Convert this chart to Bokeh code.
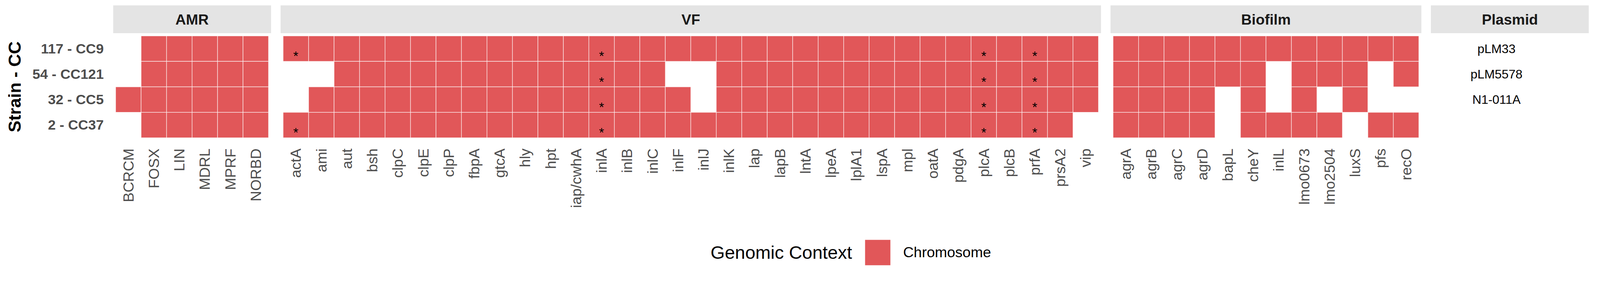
import math
from bokeh.plotting import figure
from bokeh.models import Range1d, FixedTicker, ColumnDataSource, Legend, LegendItem
from bokeh.layouts import column
from bokeh.embed import file_html
from bokeh.resources import INLINE
from bokeh.core.properties import value

# ---------------- data ----------------
strains = ["117 - CC9", "54 - CC121", "32 - CC5", "2 - CC37"]

amr_genes = ["BCRCM", "FOSX", "LIN", "MDRL", "MPRF", "NORBD"]
amr_presence = [
    [0, 1, 1, 1, 1, 1],
    [0, 1, 1, 1, 1, 1],
    [1, 1, 1, 1, 1, 1],
    [0, 1, 1, 1, 1, 1],
]

vf_genes = ["actA", "ami", "aut", "bsh", "clpC", "clpE", "clpP", "fbpA", "gtcA", "hly",
            "hpt", "iap/cwhA", "inlA", "inlB", "inlC", "inlF", "inlJ", "inlK", "lap", "lapB",
            "lntA", "lpeA", "lplA1", "lspA", "mpl", "oatA", "pdgA", "plcA", "plcB", "prfA",
            "prsA2", "vip"]
vf_presence = [
    [1, 1, 1, 1, 1, 1, 1, 1, 1, 1, 1, 1, 1, 1, 1, 1, 1, 1, 1, 1, 1, 1, 1, 1, 1, 1, 1, 1, 1, 1, 1, 1],
    [0, 0, 1, 1, 1, 1, 1, 1, 1, 1, 1, 1, 1, 1, 1, 0, 0, 1, 1, 1, 1, 1, 1, 1, 1, 1, 1, 1, 1, 1, 1, 1],
    [0, 1, 1, 1, 1, 1, 1, 1, 1, 1, 1, 1, 1, 1, 1, 1, 0, 1, 1, 1, 1, 1, 1, 1, 1, 1, 1, 1, 1, 1, 1, 1],
    [1, 1, 1, 1, 1, 1, 1, 1, 1, 1, 1, 1, 1, 1, 1, 1, 1, 1, 1, 1, 1, 1, 1, 1, 1, 1, 1, 1, 1, 1, 1, 0],
]

bio_genes = ["agrA", "agrB", "agrC", "agrD", "bapL", "cheY", "inlL", "lmo0673", "lmo2504",
             "luxS", "pfs", "recO"]
bio_presence = [
    [1, 1, 1, 1, 1, 1, 1, 1, 1, 1, 1, 1],
    [1, 1, 1, 1, 1, 1, 0, 1, 1, 1, 0, 1],
    [1, 1, 1, 1, 0, 1, 0, 1, 0, 1, 0, 0],
    [1, 1, 1, 1, 0, 1, 1, 1, 1, 0, 1, 1],
]

star_genes = ["actA", "actA", "inlA", "inlA", "inlA", "inlA",
              "plcA", "plcA", "plcA", "plcA", "prfA", "prfA", "prfA", "prfA"]
star_strains = ["117 - CC9", "2 - CC37",
                "117 - CC9", "54 - CC121", "32 - CC5", "2 - CC37",
                "117 - CC9", "54 - CC121", "32 - CC5", "2 - CC37",
                "117 - CC9", "54 - CC121", "32 - CC5", "2 - CC37"]

plasmid_labels = ["pLM33", "pLM5578", "N1-011A", ""]

panel_names = ["AMR", "VF", "Biofilm", "Plasmid"]
panel_genes = [amr_genes, vf_genes, bio_genes, None]
panel_presence = [amr_presence, vf_presence, bio_presence, None]
plasmid_units = 6

legend_title = "Genomic Context"
legend_label = "Chromosome"

# ---------------- style ----------------
# sizes are measured on the 4364 px picture and converted to page (CSS) pixels
K = 4364 / 4096
MARGIN = 8


def sz(v):
    return v / K


def fs(v):
    return "%.1fpx" % (v / K)


RED = "#E15759"
STRIP = "#E4E4E4"
FONT = "Liberation Sans"
TILE_PX = 69.5
PAD = 0.1
GAP = 26 / TILE_PX

extents = []
start = 0.0
for name, genes in zip(panel_names, panel_genes):
    n = len(genes) if genes is not None else plasmid_units
    end = start + n + 2 * PAD
    extents.append((start, end))
    start = end + GAP
total = extents[-1][1]
n_rows = len(strains)
row_y = {s: n_rows - i - 0.5 for i, s in enumerate(strains)}

W = int(round(4096 - 2 * MARGIN))
LEFT = int(round(sz(316) - MARGIN))
frame_w = int(round(sz(total * TILE_PX)))
RIGHT = W - LEFT - frame_w

TOP = int(round(sz(22) - MARGIN))
STRIP_H = int(round(sz(77)))
TILE_FH = int(round(sz((n_rows + 2 * PAD) * TILE_PX)))
AXIS_B = int(round(sz(192)))
page_h = int(766 / K) - 2 * MARGIN
LEG_H = page_h - (TOP + STRIP_H) - (TILE_FH + AXIS_B)
leg_top_css = MARGIN + TOP + STRIP_H + TILE_FH + AXIS_B

xr = Range1d(0, total)

# ---------------- strip figure ----------------
ps = figure(width=W, height=TOP + STRIP_H, x_range=xr, y_range=Range1d(0, 1),
            output_backend="svg", toolbar_location=None,
            x_axis_location=None, y_axis_location=None,
            min_border_left=LEFT, min_border_right=RIGHT, min_border_top=TOP, min_border_bottom=0)
ps.outline_line_color = None
ps.grid.visible = False
strip_src = ColumnDataSource(dict(
    x=[(a + b) / 2 for a, b in extents],
    w=[b - a for a, b in extents],
    y=[0.5] * len(extents),
    name=panel_names))
ps.rect(x="x", y="y", width="w", height=1, source=strip_src, fill_color=STRIP, line_color=None)
ps.text(x="x", y="y", text="name", source=strip_src, text_align="center", text_baseline="middle",
        text_font=value(FONT), text_font_size=fs(40), text_font_style="bold", text_color="#1A1A1A")

# ---------------- tile figure ----------------
p = figure(width=W, height=TILE_FH + AXIS_B,
           x_range=xr, y_range=Range1d(-PAD, n_rows + PAD),
           output_backend="svg", toolbar_location=None,
           min_border_left=LEFT, min_border_right=RIGHT, min_border_top=0, min_border_bottom=AXIS_B)
p.outline_line_color = None
p.grid.visible = False

tx, ty = [], []
tick_pos, tick_lab = [], []
gene_x = {}
for (a, b), genes, pres in zip(extents, panel_genes, panel_presence):
    if genes is None:
        continue
    for j, g in enumerate(genes):
        xc = a + PAD + j + 0.5
        gene_x[g] = xc
        tick_pos.append(xc)
        tick_lab.append(g)
        for i, s in enumerate(strains):
            if pres[i][j]:
                tx.append(xc)
                ty.append(row_y[s])

p.rect(x=tx, y=ty, width=1, height=1, fill_color=RED,
       line_color="white", line_width=1.4, line_alpha=0.75)

# asterisks
p.text(x=[gene_x[g] for g in star_genes], y=[row_y[s] for s in star_strains],
       text=["*"] * len(star_genes), text_align="center", text_baseline="alphabetic",
       y_offset=sz(20), text_font=value(FONT), text_font_size=fs(36), text_color="black")

# plasmid labels
pa, pb = extents[-1]
pl = [(lab, row_y[s]) for lab, s in zip(plasmid_labels, strains) if lab]
p.text(x=[pa + 0.415 * (pb - pa)] * len(pl), y=[v for _, v in pl], text=[t for t, _ in pl],
       text_align="center", text_baseline="middle", text_font=value(FONT),
       text_font_size=fs(34), text_color="black")

# x axis
xa = p.xaxis[0]
xa.ticker = FixedTicker(ticks=tick_pos)
xa.major_label_overrides = {t: l for t, l in zip(tick_pos, tick_lab)}
xa.major_label_orientation = math.pi / 2
xa.major_label_standoff = int(round(sz(22)))
xa.major_tick_out = 0
xa.major_tick_in = 0
xa.minor_tick_out = 0
xa.minor_tick_in = 0
xa.axis_line_color = None
xa.major_label_text_font = FONT
xa.major_label_text_font_size = fs(40)
xa.major_label_text_color = "#4D4D4D"

# y axis
ya = p.yaxis[0]
ya.ticker = FixedTicker(ticks=[row_y[s] for s in strains])
ya.major_label_overrides = {row_y[s]: s for s in strains}
ya.major_label_standoff = int(round(sz(26)))
ya.major_tick_out = 0
ya.major_tick_in = 0
ya.minor_tick_out = 0
ya.minor_tick_in = 0
ya.axis_line_color = None
ya.major_label_text_font = FONT
ya.major_label_text_font_size = fs(38)
ya.major_label_text_font_style = "bold"
ya.major_label_text_color = "#4D4D4D"
ya.axis_label = "Strain - CC"
ya.axis_label_text_font = FONT
ya.axis_label_text_font_size = fs(48)
ya.axis_label_text_font_style = "bold"
ya.axis_label_text_color = "black"
ya.axis_label_standoff = int(round(sz(18)))

# ---------------- legend figure (pixel-unit frame) ----------------
lp = figure(width=W, height=LEG_H, x_range=Range1d(0, frame_w), y_range=Range1d(0, LEG_H),
            output_backend="svg", toolbar_location=None,
            x_axis_location=None, y_axis_location=None,
            min_border_left=LEFT, min_border_right=RIGHT, min_border_top=0, min_border_bottom=0)
lp.outline_line_color = None
lp.grid.visible = False
KEY = sz(86)
KEY_LEFT = sz(2359) - MARGIN - LEFT
KEY_BOTTOM = (leg_top_css + LEG_H) - sz(740)
key_src = ColumnDataSource(dict(x=[float("nan")], y=[float("nan")], context=[legend_label]))
key = lp.rect(x="x", y="y", width=1, height=1, source=key_src, fill_color=RED, line_color=None)
legend = Legend(items=[LegendItem(label=legend_label, renderers=[key])],
                location=(int(round(KEY_LEFT)), int(round(KEY_BOTTOM))), orientation="horizontal",
                glyph_width=int(round(KEY)), glyph_height=int(round(KEY)),
                label_standoff=int(round(sz(27))),
                label_text_font=FONT, label_text_font_size=fs(40), label_text_color="black",
                label_text_baseline="middle",
                padding=0, margin=0, spacing=0, border_line_color=None, background_fill_alpha=0)
lp.add_layout(legend, "center")
lp.text(x=[KEY_LEFT - sz(27)], y=[KEY_BOTTOM + KEY / 2], text=[legend_title],
        text_align="right", text_baseline="middle", text_font=value(FONT),
        text_font_size=fs(50), text_color="black")

layout = column(ps, p, lp)
open("out.html", "w").write(file_html(layout, INLINE))
